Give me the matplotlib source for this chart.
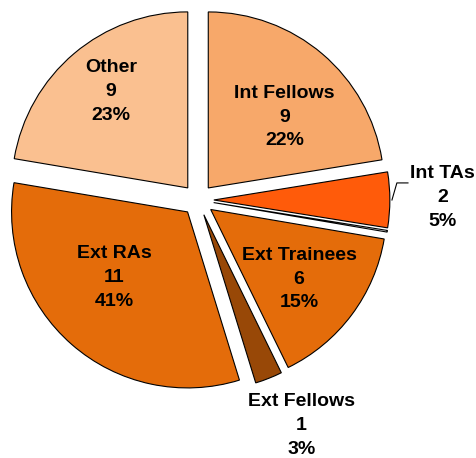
import numpy as np
import matplotlib.pyplot as plt

# slice order, clockwise from 12 o'clock
categories = ['Int Fellows', 'Int TAs', '', 'Ext Trainees', 'Ext Fellows', 'Ext RAs', 'Other']
counts = ['9', '2', '', '6', '1', '11', '9']
pct_labels = ['22%', '5%', '', '15%', '3%', '41%', '23%']
# angular share of each slice as drawn (percent of the circle)
shares = [22.5, 5.1, 0.15, 15.1, 2.5, 32.5, 22.4]

colors = ['#F7A86A', '#FF5B0A', '#FFFFFF', '#E46C0A', '#984807', '#E46C0A', '#FAC090']

# label placement: radius from pie centre and angle tweak vs. wedge middle
label_r = [0.68, 1.39, None, 0.73, 1.41, 0.65, 0.79]
label_dth = [-5.8, 0.5, 0, -1.3, 3.0, -6.0, -1.5]

plt.rcParams['font.family'] = ['Liberation Sans', 'DejaVu Sans']

W, H = 476, 458
fig = plt.figure(figsize=(W / 100, H / 100), dpi=100)
ax = fig.add_axes([0, 0, 1, 1])

# pie centre in pixels and radius in pixels
cx, cy, R = 198, 200, 176

wedges, _ = ax.pie(shares, colors=colors, startangle=90, counterclock=False,
                   explode=[0.09] * len(shares),
                   wedgeprops=dict(edgecolor='black', linewidth=0.8))

ax.set_aspect('auto')
ax.set_xlim(-cx / R, (W - cx) / R)
ax.set_ylim(-(H - cy) / R, cy / R)
ax.axis('off')

for w, cat, n, p, r, dth in zip(wedges, categories, counts, pct_labels, label_r, label_dth):
    if r is None:
        continue
    th = np.deg2rad((w.theta1 + w.theta2) / 2 + dth)
    ax.text(r * np.cos(th), r * np.sin(th), f"{cat}\n{n}\n{p}",
            ha='center', va='center', fontsize=14, fontweight='bold',
            linespacing=1.52, color='black')

# leader line for Int TAs
ax.plot([1.102, 1.13, 1.193], [0.0, 0.097, 0.097], color='black', lw=0.8)

fig.savefig('out.png', dpi=100)
